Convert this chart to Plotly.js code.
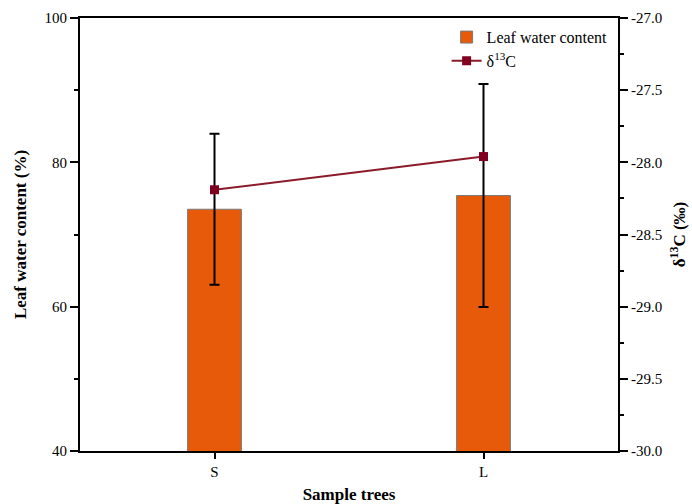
<!DOCTYPE html>
<html><head><meta charset="utf-8">
<script src="https://cdn.plot.ly/plotly-3.0.1.min.js"></script>
<style>html,body{margin:0;padding:0;background:#fff}#chart{width:692px;height:504px}</style>
</head><body><div id="chart"></div>
<script>
const categories = ['S', 'L'];
const leafWater = [73.5, 75.4];
const leafWaterErr = [10.45, 15.45];
const d13C = [-28.19, -27.96];
const rightTickVals = [-30, -29.5, -29, -28.5, -28, -27.5, -27];
const rightTickText = ['-30.0', '-29.5', '-29.0', '-28.5', '-28.0', '-27.5', '-27.0'];

const serif = "'Liberation Serif', serif";

const traces = [
  {
    type: 'bar', name: 'Leaf water content', x: categories, y: leafWater,
    width: 0.2,
    marker: {color: '#E65A0A', line: {color: '#7a7a7a', width: 1}},
    error_y: {type: 'data', array: leafWaterErr, visible: true, color: '#000', thickness: 2, width: 5},
    yaxis: 'y'
  },
  {
    type: 'scatter', mode: 'lines+markers', name: 'δ<sup>13</sup>C', x: categories, y: d13C,
    line: {color: '#8B1A2B', width: 2},
    marker: {symbol: 'square', size: 9, color: '#800020'},
    yaxis: 'y2'
  }
];

const layout = {
  width: 692, height: 504,
  margin: {l: 80, r: 74, t: 18, b: 53},
  paper_bgcolor: '#fff', plot_bgcolor: '#fff',
  font: {family: serif, size: 15, color: '#000'},
  showlegend: true,
  legend: {x: 0.99, y: 0.995, xanchor: 'right', yanchor: 'top', bgcolor: 'rgba(0,0,0,0)', font: {family: serif, size: 16}, tracegroupgap: 0},
  xaxis: {
    range: [-0.5, 1.5], showgrid: false, zeroline: false,
    showline: true, linecolor: '#000', linewidth: 2, mirror: true,
    ticks: 'outside', ticklen: 6, tickwidth: 2, tickcolor: '#000',
    tickfont: {family: serif, size: 15},
    title: {text: '<b>Sample trees</b>', font: {family: serif, size: 17}, standoff: 16}
  },
  yaxis: {
    range: [40, 100], dtick: 20, tick0: 40, showgrid: false, zeroline: false,
    showline: true, linecolor: '#000', linewidth: 2,
    ticks: 'outside', ticklen: 8, tickwidth: 2, tickcolor: '#000',
    minor: {dtick: 10, ticks: 'outside', ticklen: 4, tickwidth: 2, tickcolor: '#000'},
    tickfont: {family: serif, size: 15},
    title: {text: '<b>Leaf water content (%)</b>', font: {family: serif, size: 17}, standoff: 14}
  },
  yaxis2: {
    overlaying: 'y', side: 'right',
    range: [-30, -27], tickmode: 'array', tickvals: rightTickVals, ticktext: rightTickText,
    showgrid: false, zeroline: false,
    showline: true, linecolor: '#000', linewidth: 2,
    ticks: 'outside', ticklen: 8, tickwidth: 2, tickcolor: '#000',
    minor: {dtick: 0.25, tick0: -30, ticks: 'outside', ticklen: 4, tickwidth: 2, tickcolor: '#000'},
    tickfont: {family: serif, size: 15},
    title: {text: '<b>δ<sup>13</sup>C (‰)</b>', font: {family: serif, size: 17}, standoff: 12}
  }
};

Plotly.newPlot('chart', traces, layout, {displayModeBar: false, staticPlot: true});
</script></body></html>
